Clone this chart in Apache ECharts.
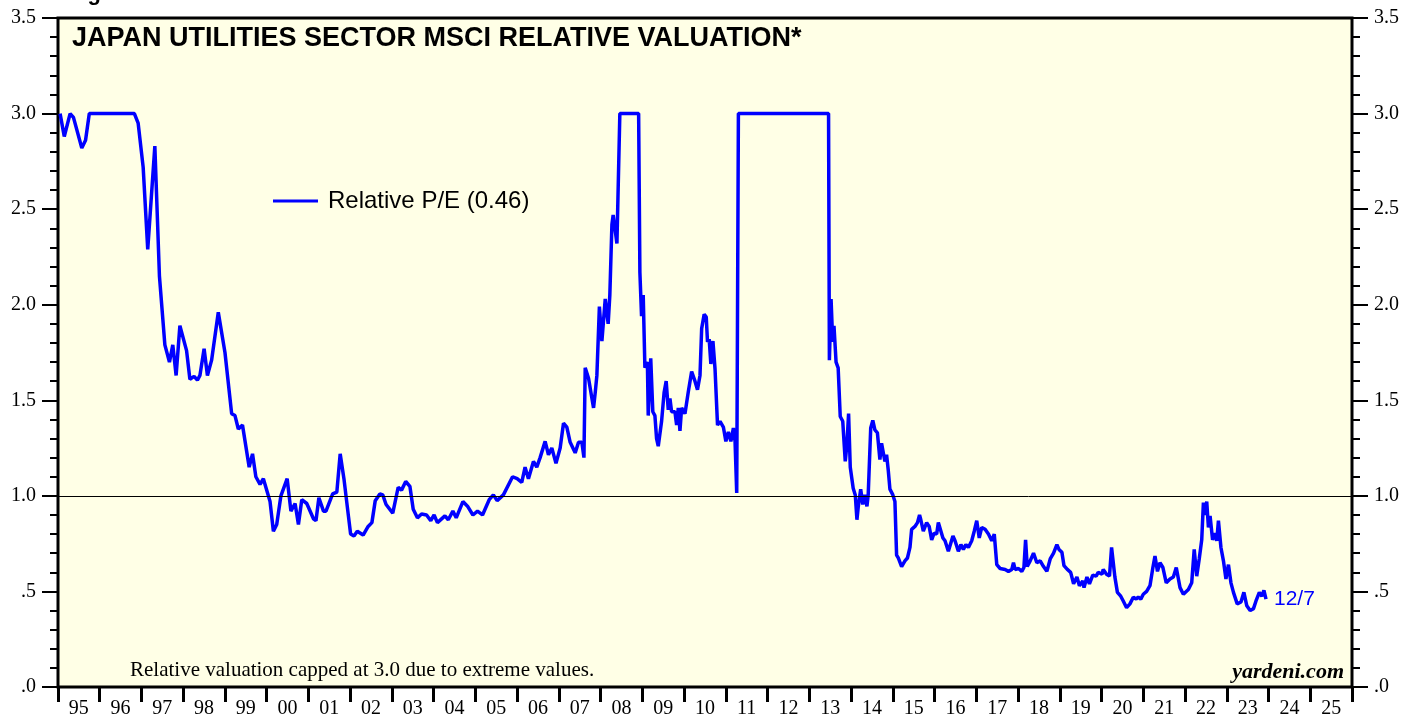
<!DOCTYPE html>
<html>
<head>
<meta charset="utf-8">
<title>Japan Utilities Sector MSCI Relative Valuation</title>
<script src="https://cdn.jsdelivr.net/npm/echarts@6/dist/echarts.min.js"></script>
<style>
  html, body { margin: 0; padding: 0; background: #fff; }
  #chart { width: 1406px; height: 719px; }
</style>
</head>
<body>
<div id="chart"></div>
<script>
// decimal year / relative P/E (capped at 3.0)
const yrs95 = [1995.05, 1995.15, 1995.29, 1995.37, 1995.57, 1995.66, 1995.75, 1996.83, 1996.92, 1997.04,
  1997.15, 1997.32, 1997.43, 1997.56, 1997.67, 1997.75, 1997.83, 1997.92, 1998.08, 1998.16,
  1998.26, 1998.34, 1998.40, 1998.50, 1998.58, 1998.68, 1998.84, 1999.00, 1999.16, 1999.24,
  1999.32, 1999.42, 1999.58, 1999.66, 1999.74, 1999.84, 1999.92]
const pe95 = [3.0, 2.88, 3.0, 2.98, 2.82, 2.86, 3.0, 3.0, 2.95, 2.72,
  2.29, 2.83, 2.15, 1.79, 1.70, 1.79, 1.63, 1.89, 1.76, 1.61,
  1.625, 1.605, 1.63, 1.77, 1.63, 1.71, 1.96, 1.75, 1.43, 1.42,
  1.35, 1.37, 1.15, 1.22, 1.10, 1.06, 1.09]

const yrs00 = [2000.08, 2000.16, 2000.24, 2000.34, 2000.49, 2000.58, 2000.68, 2000.76, 2000.84, 2000.96,
  2001.12, 2001.18, 2001.25, 2001.36, 2001.42, 2001.58, 2001.68, 2001.76, 2001.85, 2001.96,
  2002.01, 2002.09, 2002.17, 2002.31, 2002.43, 2002.52, 2002.60, 2002.71, 2002.78, 2002.86,
  2003.02, 2003.15, 2003.23, 2003.33, 2003.43, 2003.51, 2003.61, 2003.71, 2003.83, 2003.93,
  2004.01, 2004.09, 2004.27, 2004.35, 2004.46, 2004.54, 2004.70, 2004.81, 2004.94, 2005.05,
  2005.17, 2005.33, 2005.43, 2005.52, 2005.67, 2005.89, 2006.00, 2006.11, 2006.19, 2006.27,
  2006.39, 2006.47, 2006.55, 2006.67, 2006.75, 2006.83, 2006.93, 2007.03, 2007.11, 2007.19,
  2007.27, 2007.39, 2007.47, 2007.55, 2007.60, 2007.63, 2007.71, 2007.83, 2007.87, 2007.91,
  2007.97]
const pe00 = [0.97, 0.815, 0.85, 1.00, 1.09, 0.92, 0.96, 0.85, 0.98, 0.96,
  0.88, 0.87, 0.99, 0.92, 0.92, 1.01, 1.02, 1.22, 1.09, 0.89,
  0.80, 0.79, 0.815, 0.795, 0.84, 0.86, 0.975, 1.01, 1.005, 0.955,
  0.91, 1.045, 1.03, 1.075, 1.05, 0.93, 0.885, 0.905, 0.90, 0.87,
  0.90, 0.86, 0.895, 0.875, 0.92, 0.885, 0.97, 0.946, 0.90, 0.92,
  0.90, 0.98, 1.005, 0.975, 1.005, 1.10, 1.09, 1.07, 1.15, 1.09,
  1.18, 1.15, 1.20, 1.285, 1.215, 1.25, 1.17, 1.25, 1.38, 1.36,
  1.28, 1.225, 1.28, 1.28, 1.20, 1.67, 1.615, 1.46, 1.54, 1.63,
  1.99]

const yrs08 = [2008.03, 2008.11, 2008.18, 2008.22, 2008.27, 2008.30, 2008.39, 2008.46, 2008.91, 2008.94,
  2008.98, 2009.02, 2009.06, 2009.12, 2009.14, 2009.20, 2009.25, 2009.30, 2009.34, 2009.38,
  2009.46, 2009.52, 2009.57, 2009.62, 2009.66, 2009.70, 2009.78, 2009.82, 2009.86, 2009.90,
  2009.94, 2010.02, 2010.10, 2010.18, 2010.26, 2010.32, 2010.38, 2010.42, 2010.48, 2010.53,
  2010.56, 2010.60, 2010.64, 2010.69, 2010.74, 2010.80, 2010.86, 2010.94, 2011.00, 2011.06,
  2011.12, 2011.18, 2011.22, 2011.26, 2011.30, 2013.46, 2013.48, 2013.52, 2013.56, 2013.59,
  2013.64, 2013.69, 2013.74, 2013.80, 2013.86, 2013.90, 2013.94, 2013.98, 2014.05, 2014.10,
  2014.14, 2014.17, 2014.23, 2014.28, 2014.33, 2014.38, 2014.41, 2014.47, 2014.52, 2014.57,
  2014.63, 2014.69, 2014.73, 2014.77, 2014.81, 2014.85, 2014.89, 2014.93]
const pe08 = [1.81, 2.03, 1.90, 2.05, 2.42, 2.47, 2.32, 3.0, 3.0, 2.17,
  1.94, 2.05, 1.67, 1.70, 1.42, 1.72, 1.44, 1.42, 1.30, 1.26,
  1.39, 1.54, 1.60, 1.45, 1.51, 1.44, 1.44, 1.37, 1.46, 1.34,
  1.46, 1.43, 1.545, 1.65, 1.60, 1.555, 1.63, 1.875, 1.95, 1.935,
  1.805, 1.82, 1.69, 1.81, 1.665, 1.37, 1.39, 1.36, 1.285, 1.335,
  1.285, 1.355, 1.285, 1.015, 3.0, 3.0, 1.71, 2.03, 1.805, 1.89,
  1.70, 1.67, 1.415, 1.39, 1.18, 1.27, 1.43, 1.15, 1.04, 1.005,
  0.875, 0.94, 1.035, 0.955, 1.005, 0.945, 1.005, 1.355, 1.395, 1.345,
  1.33, 1.19, 1.275, 1.265, 1.18, 1.215, 1.135, 1.035]

const yrs15 = [2015.00, 2015.05, 2015.09, 2015.13, 2015.21, 2015.29, 2015.35, 2015.41, 2015.45, 2015.53,
  2015.59, 2015.64, 2015.67, 2015.73, 2015.81, 2015.87, 2015.93, 2015.99, 2016.05, 2016.09,
  2016.13, 2016.20, 2016.25, 2016.33, 2016.37, 2016.44, 2016.49, 2016.57, 2016.63, 2016.69,
  2016.75, 2016.81, 2016.89, 2016.95, 2017.01, 2017.07, 2017.13, 2017.21, 2017.29, 2017.37,
  2017.43, 2017.49, 2017.57, 2017.69, 2017.77, 2017.85, 2017.89, 2017.93, 2018.01, 2018.09,
  2018.14, 2018.18, 2018.22, 2018.29, 2018.37, 2018.45, 2018.53, 2018.61, 2018.69, 2018.77,
  2018.85, 2018.93, 2018.98, 2019.05, 2019.10, 2019.18, 2019.26, 2019.33, 2019.41, 2019.47,
  2019.55, 2019.58, 2019.65, 2019.71, 2019.79, 2019.87, 2019.92, 2020.01, 2020.04, 2020.12,
  2020.19, 2020.24, 2020.28, 2020.32, 2020.38, 2020.46, 2020.52, 2020.60, 2020.68, 2020.76,
  2020.83, 2020.88, 2020.94, 2021.00, 2021.08, 2021.16, 2021.23, 2021.28, 2021.34, 2021.40,
  2021.47, 2021.55, 2021.64, 2021.72, 2021.79, 2021.88, 2021.96, 2022.08, 2022.16, 2022.22,
  2022.28, 2022.34, 2022.40, 2022.44, 2022.48, 2022.52, 2022.56, 2022.60, 2022.66, 2022.72,
  2022.76, 2022.80, 2022.86, 2022.92, 2022.98, 2023.04, 2023.10, 2023.16, 2023.25, 2023.34,
  2023.41, 2023.48, 2023.56, 2023.64, 2023.70, 2023.78, 2023.84, 2023.89, 2023.94]
const pe15 = [1.005, 0.97, 0.69, 0.675, 0.63, 0.66, 0.675, 0.73, 0.825, 0.84,
  0.86, 0.90, 0.875, 0.815, 0.86, 0.84, 0.77, 0.805, 0.80, 0.86,
  0.87, 0.78, 0.765, 0.71, 0.72, 0.79, 0.765, 0.71, 0.745, 0.72,
  0.745, 0.73, 0.765, 0.815, 0.87, 0.78, 0.835, 0.825, 0.80, 0.765,
  0.80, 0.64, 0.62, 0.615, 0.605, 0.615, 0.65, 0.615, 0.62, 0.605,
  0.625, 0.77, 0.63, 0.66, 0.70, 0.65, 0.66, 0.63, 0.605, 0.67,
  0.70, 0.745, 0.72, 0.705, 0.635, 0.615, 0.60, 0.54, 0.575, 0.53,
  0.555, 0.52, 0.575, 0.54, 0.585, 0.58, 0.60, 0.59, 0.615, 0.59,
  0.58, 0.73, 0.725, 0.575, 0.495, 0.475, 0.45, 0.415, 0.435, 0.47,
  0.46, 0.47, 0.46, 0.485, 0.50, 0.53, 0.625, 0.685, 0.605, 0.65,
  0.625, 0.545, 0.565, 0.575, 0.625, 0.52, 0.485, 0.51, 0.545, 0.72,
  0.58, 0.67, 0.77, 0.965, 0.90, 0.97, 0.835, 0.895, 0.77, 0.805,
  0.765, 0.87, 0.73, 0.66, 0.565, 0.64, 0.545, 0.495, 0.435, 0.445,
  0.495, 0.425, 0.40, 0.41, 0.45, 0.495, 0.475, 0.505, 0.46]

const yearLabels = ['95', '96', '97', '98', '99', '00', '01', '02', '03', '04', '05', '06', '07', '08', '09', '10',
  '11', '12', '13', '14', '15', '16', '17', '18', '19', '20', '21', '22', '23', '24', '25']

const years = [].concat(yrs95, yrs00, yrs08, yrs15)
const relPE = [].concat(pe95, pe00, pe08, pe15)
const seriesData = years.map((y, i) => [y, relPE[i]])

const serif = '"Liberation Serif", "Times New Roman", serif'
const sans = '"Liberation Sans", Arial, sans-serif'

const chart = echarts.init(document.getElementById('chart'))

const yAxisBase = {
  type: 'value',
  min: 0,
  max: 3.5,
  interval: 0.5,
  axisLine: { show: false },
  axisTick: { show: true, length: 16, lineStyle: { color: '#000', width: 2 } },
  minorTick: { show: true, splitNumber: 5, length: 8, lineStyle: { color: '#000', width: 2 } },
  splitLine: { show: false },
  axisLabel: {
    color: '#000',
    fontFamily: serif,
    fontSize: 20,
    margin: 22,
    formatter: v => v.toFixed(1).replace(/^0/, '')
  }
}

const option = {
  animation: false,
  backgroundColor: '#fff',
  grid: {
    left: 58,
    right: 54,
    top: 18,
    bottom: 29,
    show: true,
    backgroundColor: '#FFFFE6',
    borderColor: '#000',
    borderWidth: 3
  },
  legend: {
    left: 273,
    top: 189,
    padding: 0,
    icon: 'rect',
    itemWidth: 45,
    itemHeight: 3,
    itemGap: 10,
    textStyle: { fontFamily: sans, fontSize: 24, color: '#000', padding: [0, 0, 0, 5] },
    data: ['Relative P/E (0.46)']
  },
  graphic: [
    {
      type: 'text',
      left: 68,
      top: -17,
      style: { text: 'Figure 6.', font: 'bold 22px ' + sans, fill: '#000' }
    },
    {
      type: 'text',
      left: 72,
      top: 25,
      style: { text: 'JAPAN UTILITIES SECTOR MSCI RELATIVE VALUATION*', font: 'bold 27px ' + sans, fill: '#000' }
    },
    {
      type: 'text',
      left: 130,
      top: 660,
      style: { text: 'Relative valuation capped at 3.0 due to extreme values.', font: '21px ' + serif, fill: '#000' }
    },
    {
      type: 'text',
      right: 62,
      top: 661,
      style: { text: 'yardeni.com', font: 'italic bold 22px ' + serif, fill: '#000' }
    }
  ],
  xAxis: [
    {
      type: 'value',
      min: 1995,
      max: 2026,
      interval: 1,
      axisLine: { show: false },
      axisTick: { show: true, length: 15, lineStyle: { color: '#000', width: 3 } },
      splitLine: { show: false },
      axisLabel: { show: false }
    },
    {
      type: 'category',
      position: 'bottom',
      data: yearLabels,
      boundaryGap: true,
      axisLine: { show: false },
      axisTick: { show: false },
      axisLabel: { color: '#000', fontFamily: serif, fontSize: 20, margin: 12 }
    }
  ],
  yAxis: [
    Object.assign({}, yAxisBase, { position: 'left' }),
    Object.assign({}, yAxisBase, { position: 'right' })
  ],
  series: [
    {
      name: 'Relative P/E (0.46)',
      type: 'line',
      xAxisIndex: 0,
      yAxisIndex: 0,
      data: seriesData,
      showSymbol: false,
      smooth: false,
      lineStyle: { color: '#0000FF', width: 3.5 },
      itemStyle: { color: '#0000FF' },
      endLabel: {
        show: true,
        formatter: '12/7',
        color: '#0000FF',
        fontFamily: sans,
        fontSize: 21,
        distance: 8
      },
      markLine: {
        silent: true,
        symbol: ['none', 'none'],
        label: { show: false },
        lineStyle: { color: '#000', width: 1, type: 'solid' },
        data: [{ yAxis: 1 }]
      },
      z: 3
    }
  ]
}

chart.setOption(option)

window.addEventListener('resize', () => chart.resize())
</script>
</body>
</html>
